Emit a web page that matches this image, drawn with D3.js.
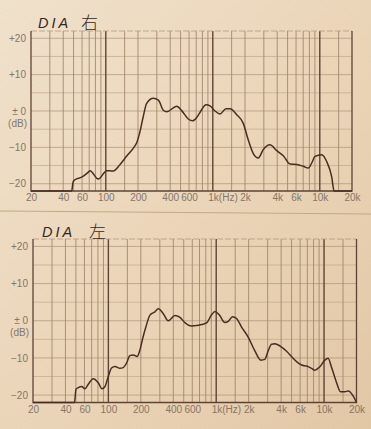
<!DOCTYPE html>
<html>
<head>
<meta charset="utf-8">
<script src="https://cdn.jsdelivr.net/npm/d3@7"></script>
<style>
  html, body { margin: 0; padding: 0; background: #ead6bb; }
  svg { display: block; }
  .tick text { font-family: "Liberation Sans", Arial, sans-serif; font-size: 10px; fill: #84766a; }
  .title { font-family: "Liberation Sans", Arial, sans-serif; font-style: italic; font-size: 14.5px; fill: #35261f; letter-spacing: 3px; }
  .kanji { font-family: "Noto Sans CJK JP", sans-serif; font-weight: 300; font-size: 17px; fill: #35261f; }
</style>
</head>
<body>
<svg id="chart" width="371" height="429"></svg>
<script>
// measured response, right channel (Hz / dB)
const rightFreq = [20, 48, 49.5, 51.5, 59.6, 68.7, 71.2, 85, 102, 117,
  136, 157, 181, 194, 209, 224, 241, 278, 310, 345,
  371, 460, 512, 590, 649, 707, 759, 864, 942, 1049,
  1168, 1329, 1448, 1673, 1927, 2147, 2391, 2663, 2966, 3424,
  3957, 4560, 5268, 6084, 7013, 7811, 8405, 9021, 10420, 11604,
  12925, 13600, 20000];
const rightDb = [-22, -22, -19.5, -18.9, -18.2, -16.8, -16.4, -18.7, -16.4, -16.5,
  -14.7, -12.4, -10.2, -8.8, -5.6, -1.5, 2.1, 3.5, 3.0, 0.2,
  -0.2, 1.3, 0.1, -2.2, -2.7, -1.8, -0.4, 1.7, 1.4, 0,
  -0.8, 0.6, 0.6, -1.0, -3.4, -8.0, -11.7, -12.9, -10.6, -9.3,
  -10.9, -12.3, -14.6, -14.7, -15.2, -15.7, -14.3, -12.5, -12.0, -13.9,
  -18.1, -22, -22];

// measured response, left channel
const leftFreq = [20, 48.5, 50.1, 52.6, 56.5, 60.7, 65.1, 72.4, 80.6, 87.2,
  93, 99.7, 107, 115, 128, 137, 148, 158, 170, 185,
  196, 210, 223, 243, 270, 290, 323, 359, 414, 461,
  512, 591, 658, 732, 814, 906, 973, 1066, 1204, 1291,
  1418, 1545, 1719, 1979, 2283, 2595, 2826, 3032, 3260, 3498,
  4036, 4490, 4995, 5558, 6184, 6880, 7655, 8215, 9140, 10170,
  10910, 11730, 13050, 14220, 15580, 16720, 18600, 20000];
const leftDb = [-22, -22, -18.4, -18.0, -17.7, -18.3, -17.1, -15.6, -16.7, -18.3,
  -17.7, -15.0, -12.7, -12.3, -12.8, -12.6, -11.3, -9.4, -9.2, -9.6,
  -7.9, -4.3, -1.6, 1.5, 2.4, 3.2, 1.9, 0.0, 1.4, 0.9,
  -0.5, -1.4, -1.3, -1.0, -0.6, 1.6, 2.5, 1.6, -0.5, -0.2,
  1.1, 0.6, -1.7, -4.4, -8.1, -10.6, -10.4, -8.1, -6.3, -6.2,
  -7.1, -8.2, -9.6, -11.0, -11.9, -12.2, -12.8, -13.3, -12.4, -10.6,
  -10.1, -12.5, -16.6, -19.1, -19.1, -18.9, -20.2, -22];

const gridFreqs = [30, 40, 50, 60, 70, 80, 90, 100, 150, 200, 300, 400, 500, 600, 700, 800, 900,
  1000, 1500, 2000, 3000, 4000, 5000, 6000, 7000, 8000, 9000, 10000, 15000];
const majorFreqs = [100, 1000, 10000];
const xTickFreqs = [20, 40, 60, 100, 200, 400, 600, 1000, 2000, 4000, 6000, 10000, 20000];
const xTickLabels = ['20', '40', '60', '100', '200', '400', '600', '1k(Hz)', '2k', '4k', '6k', '10k', '20k'];
const yTickDb = [20, 10, 0, -10, -20];
const yTickLabels = ['+20', '+10', '± 0', '−10', '−20'];
const gridDb = [-20, -15, -10, -5, 0, 5, 10, 15, 20];

const svg = d3.select('#chart');

// paper
const defs = svg.append('defs');
const grad = defs.append('linearGradient').attr('id', 'paper')
  .attr('x1', 0).attr('y1', 0).attr('x2', 1).attr('y2', 1);
grad.append('stop').attr('offset', '0%').attr('stop-color', '#f0e1cb');
grad.append('stop').attr('offset', '55%').attr('stop-color', '#ead4b7');
grad.append('stop').attr('offset', '100%').attr('stop-color', '#e2c7a5');
svg.append('rect').attr('width', 371).attr('height', 429).attr('fill', 'url(#paper)');
svg.append('line').attr('x1', 0).attr('y1', 211).attr('x2', 371).attr('y2', 214)
  .attr('stroke', '#c4a988').attr('stroke-width', 1.2);

function drawChart(cfg) {
  const x = d3.scaleLog().domain([20, 20000]).range([cfg.left, cfg.right]);
  const y = d3.scaleLinear().domain([-22, 22]).range([cfg.bottom, cfg.top]);
  const g = svg.append('g');

  g.selectAll('line.h').data(gridDb).join('line')
    .attr('class', 'h')
    .attr('x1', cfg.left).attr('x2', cfg.right)
    .attr('y1', (d) => y(d)).attr('y2', (d) => y(d))
    .attr('stroke', (d) => (d % 10 === 0 ? '#ad9278' : '#c2a88b'))
    .attr('stroke-width', 0.7);

  g.selectAll('line.v').data(gridFreqs).join('line')
    .attr('class', 'v')
    .attr('x1', (d) => x(d)).attr('x2', (d) => x(d))
    .attr('y1', cfg.top).attr('y2', cfg.bottom)
    .attr('stroke', (d) => (majorFreqs.includes(d) ? '#5e4434' : '#9f8369'))
    .attr('stroke-width', (d) => (majorFreqs.includes(d) ? 1.4 : 0.85));

  // frame
  g.append('line').attr('x1', cfg.left).attr('x2', cfg.right)
    .attr('y1', cfg.top).attr('y2', cfg.top)
    .attr('stroke', '#b59a7e').attr('stroke-width', 0.8).attr('stroke-dasharray', '6,2');
  g.append('path')
    .attr('d', `M${cfg.left},${cfg.top}V${cfg.bottom}H${cfg.right}V${cfg.top}`)
    .attr('fill', 'none').attr('stroke', '#5e4434').attr('stroke-width', 1.3);

  const xAxis = d3.axisBottom(x)
    .tickValues(xTickFreqs)
    .tickFormat((d, i) => xTickLabels[i])
    .tickSize(0).tickPadding(3);
  const xg = g.append('g').attr('transform', `translate(0,${cfg.bottom})`).call(xAxis);
  xg.select('.domain').remove();
  xg.selectAll('.tick text')
    .filter((d) => d === 1000)
    .attr('text-anchor', 'start').attr('x', -5);

  const yAxis = d3.axisLeft(y)
    .tickValues(yTickDb)
    .tickFormat((d, i) => yTickLabels[i])
    .tickSize(0).tickPadding(5);
  const yg = g.append('g').attr('transform', `translate(${cfg.left},0)`).call(yAxis);
  yg.select('.domain').remove();
  yg.selectAll('.tick')
    .filter((d) => d === 0)
    .append('text')
    .attr('x', -4).attr('dy', '1.5em')
    .attr('text-anchor', 'end')
    .attr('fill', '#84766a')
    .text('(dB)');

  const line = d3.line()
    .x((d) => x(d[0]))
    .y((d) => y(d[1]))
    .curve(d3.curveMonotoneX);
  g.append('path')
    .datum(d3.zip(cfg.freq, cfg.db))
    .attr('d', line)
    .attr('fill', 'none')
    .attr('stroke', '#4a2d22')
    .attr('stroke-width', 1.5)
    .attr('stroke-linejoin', 'round');

  g.append('text').attr('class', 'title')
    .attr('x', cfg.titleX).attr('y', cfg.titleY).text('DIA');
  g.append('text').attr('class', 'kanji')
    .attr('x', cfg.kanjiX).attr('y', cfg.titleY + 1).text(cfg.kanji);
}

drawChart({
  left: 31, right: 352, top: 31, bottom: 191,
  freq: rightFreq, db: rightDb,
  titleX: 38, titleY: 28, kanjiX: 81, kanji: '右',
});

drawChart({
  left: 33, right: 356.5, top: 239, bottom: 402.5,
  freq: leftFreq, db: leftDb,
  titleX: 42, titleY: 237, kanjiX: 89, kanji: '左',
});
</script>
</body>
</html>
